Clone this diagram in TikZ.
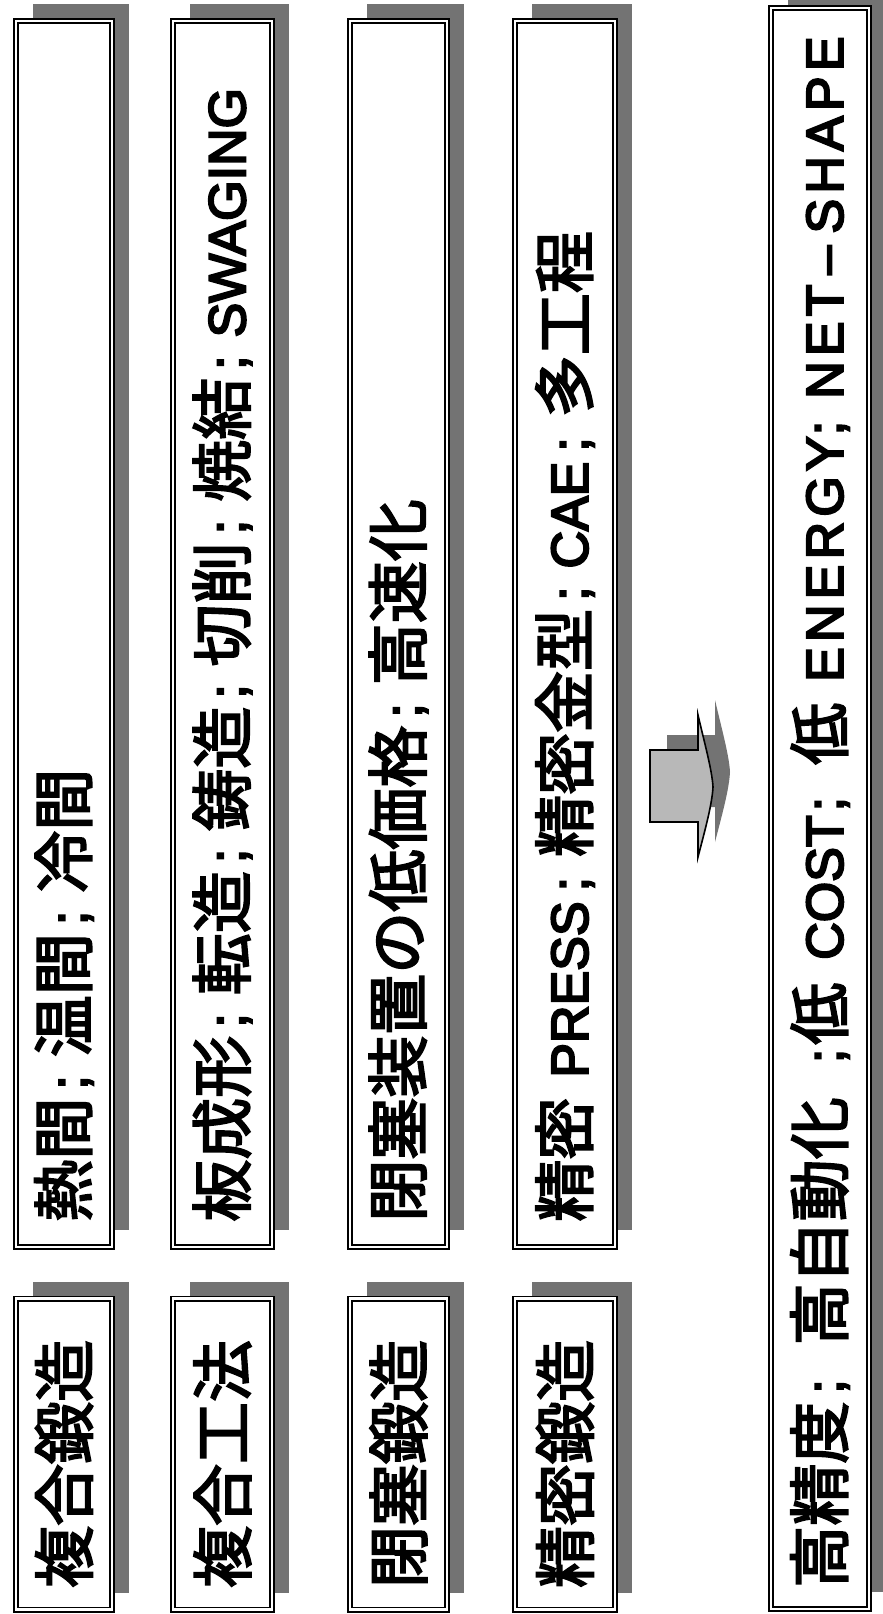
\documentclass[tikz,border=0pt]{standalone}
\usepackage{fontspec}
\setmainfont{Liberation Sans}[FakeBold=4]
\newfontfamily\latw{Liberation Sans}[FakeBold=4, LetterSpace=10]
\newfontfamily\jp{Noto Sans CJK JP}[FakeBold=3]
\usetikzlibrary{shadows,calc}
\tikzset{
  frame/.style={draw=black, line width=1.7pt, double=white, double distance=2.6pt,
    fill=white, inner sep=0pt,
    drop shadow={shadow xshift=17pt, shadow yshift=17pt, fill=black!55, opacity=1}},
  txt/.style={rotate=90, inner sep=0pt, font=\fontsize{52}{60}\selectfont},
  arrowshade/.style={fill=black!55},
  arrowbody/.style={fill=black!28, draw=black, line width=1.6pt, line join=miter},
}
\newcommand{\J}[1]{{\jp\fontsize{62}{64}\selectfont #1}}
\newcommand{\semi}{\kern8pt;\kern18pt}
\begin{document}
\begin{tikzpicture}[x=1pt,y=-1pt]
\useasboundingbox (0,0) rectangle (883,1614);
\fill[white] (0,0) rectangle (883,1614);
% large boxes
\node[frame, minimum width=96pt, minimum height=1226pt] (l1) at (64,634) {};
\node[frame, minimum width=99pt, minimum height=1226pt] (l2) at (222.5,634) {};
\node[frame, minimum width=97pt, minimum height=1226pt] (l3) at (398.5,634) {};
\node[frame, minimum width=100pt, minimum height=1226pt] (l4) at (565,634) {};
% small boxes
\node[frame, minimum width=96pt, minimum height=311pt] (s1) at (64,1454) {};
\node[frame, minimum width=99pt, minimum height=311pt] (s2) at (222.5,1454) {};
\node[frame, minimum width=97pt, minimum height=311pt] (s3) at (398.5,1454) {};
\node[frame, minimum width=100pt, minimum height=311pt] (s4) at (565,1454) {};
% bottom box
\node[frame, minimum width=98pt, minimum height=1601pt] (b) at (820,808.5) {};
% arrow
\begin{scope}[shift={(17,-15)}]
\path[arrowshade] (650,750) -- (698,750) -- (698,715)
  .. controls (705,745) and (712,770) .. (713,787)
  .. controls (712,805) and (705,830) .. (698,857) -- (698,822) -- (650,822) -- cycle;
\end{scope}
\path[arrowbody] (650,750) -- (698,750) -- (698,715)
  .. controls (705,745) and (712,770) .. (713,787)
  .. controls (712,805) and (705,830) .. (698,857) -- (698,822) -- (650,822) -- cycle;
% texts in small boxes
\node[txt] (ts1) at ($(s1)+(0,10)$) {\J{複合鍛造}};
\node[txt] (ts2) at ($(s2)+(0,10)$) {\J{複合工法}};
\node[txt] (ts3) at ($(s3)+(0,10)$) {\J{閉塞鍛造}};
\node[txt] (ts4) at ($(s4)+(0,10)$) {\J{精密鍛造}};
% texts in large boxes
\node[txt, anchor=west] (tl1) at ($(l1.south)+(0,-26)$) {\J{熱間}\semi\J{温間}\semi\J{冷間}};
\node[txt, anchor=west] (tl2) at ($(l2.south)+(0,-26)$) {\J{板成形}\semi\J{転造}\semi\J{鋳造}\semi\J{切削}\semi\J{焼結}\semi SWAGING};
\node[txt, anchor=west] (tl3) at ($(l3.south)+(0,-26)$) {\J{閉塞装置の低価格}\semi\J{高速化}};
\node[txt, anchor=west] (tl4) at ($(l4.south)+(0,-26)$) {\J{精密}\kern20pt PRESS\kern10pt;\kern20pt\J{精密金型}\semi CAE\kern10pt;\kern20pt\J{多工程}};
\node[txt, anchor=west] (tb) at ($(b.south)+(0,-22)$) {\J{高精度}\kern8pt;\kern34pt\J{高自動化}\kern34pt;\kern4pt\J{低}\kern23pt COST\kern4pt;\kern32pt\J{低}\kern21pt{\latw ENERGY}\kern1pt;\kern22pt{\latw NET}\kern10pt–\kern12pt{\latw SHAPE}};
\end{tikzpicture}
\end{document}
